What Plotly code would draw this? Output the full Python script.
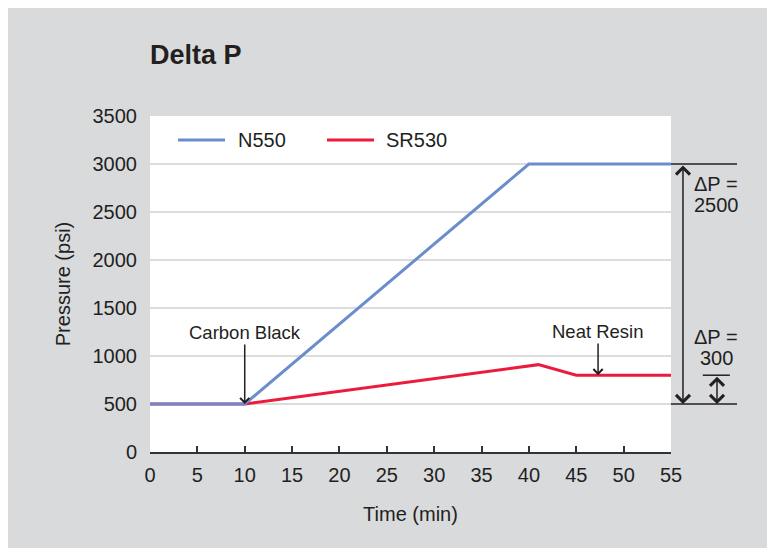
import plotly.graph_objects as go

# ---- data ----
n550_time = [0, 10, 40, 55]
n550_pressure = [500, 500, 3000, 3000]
sr530_time = [0, 10, 41, 45, 55]
sr530_pressure = [500, 500, 910, 800, 800]
x_ticks = [0, 5, 10, 15, 20, 25, 30, 35, 40, 45, 50, 55]
y_ticks = [0, 500, 1000, 1500, 2000, 2500, 3000, 3500]
dp_high = 3000
dp_low = 500
dp_resin = 800

BLUE = '#6b8dcb'
RED = '#ea1b3d'
TXT = '#231f20'
GRAY = '#d9dadc'
FONT = 'Liberation Sans, Arial, Helvetica, sans-serif'

fig = go.Figure()
fig.add_trace(go.Scatter(x=sr530_time, y=sr530_pressure, mode='lines', name='SR530',
                         line=dict(color=RED, width=3), showlegend=False))
fig.add_trace(go.Scatter(x=n550_time, y=n550_pressure, mode='lines', name='N550',
                         line=dict(color=BLUE, width=3), showlegend=False))

shapes = [
    # delta-P reference lines
    dict(type='line', xref='paper', yref='y', x0=1.0, x1=1.1267, y0=dp_high, y1=dp_high,
         line=dict(color=TXT, width=1.5)),
    dict(type='line', xref='paper', yref='y', x0=1.0, x1=1.1267, y0=dp_low, y1=dp_low,
         line=dict(color=TXT, width=1.5)),
    dict(type='line', xref='paper', yref='y', x0=1.061, x1=1.113, y0=dp_resin, y1=dp_resin,
         line=dict(color=TXT, width=1.5)),
    # manual legend samples
    dict(type='line', xref='paper', yref='paper', x0=0.0537, x1=0.144, y0=0.9286, y1=0.9286,
         line=dict(color=BLUE, width=3)),
    dict(type='line', xref='paper', yref='paper', x0=0.3397, x1=0.430, y0=0.9286, y1=0.9286,
         line=dict(color=RED, width=3)),
]

annotations = [
    dict(xref='paper', yref='paper', x=0.165, y=0.9286, text='N550', showarrow=False,
         xanchor='left', yanchor='middle', font=dict(size=20, color=TXT, family=FONT)),
    dict(xref='paper', yref='paper', x=0.449, y=0.9286, text='SR530', showarrow=False,
         xanchor='left', yanchor='middle', font=dict(size=20, color=TXT, family=FONT)),
    dict(x=10, y=dp_low, xref='x', yref='y', ax=10, ay=1246, axref='x', ayref='y',
         text='Carbon Black', showarrow=True, arrowhead=4, arrowsize=1.2, arrowwidth=1.5,
         arrowcolor=TXT, font=dict(size=18.5, color=TXT, family=FONT)),
    dict(x=47.3, y=dp_resin, xref='x', yref='y', ax=47.3, ay=1256, axref='x', ayref='y',
         text='Neat Resin', showarrow=True, arrowhead=4, arrowsize=1.2, arrowwidth=1.5,
         arrowcolor=TXT, font=dict(size=18.5, color=TXT, family=FONT)),
    # big double arrow
    dict(x=1.023, y=dp_low, xref='paper', yref='y', ax=0, ay=dp_high, axref='pixel', ayref='y',
         text='', showarrow=True, arrowside='end+start', arrowhead=4, startarrowhead=4,
         arrowsize=1.8, startarrowsize=1.8, arrowwidth=1.5, arrowcolor=TXT),
    # small double arrow
    dict(x=1.0883, y=dp_low, xref='paper', yref='y', ax=0, ay=dp_resin, axref='pixel', ayref='y',
         text='', showarrow=True, arrowside='end+start', arrowhead=4, startarrowhead=4,
         arrowsize=1.8, startarrowsize=1.8, arrowwidth=1.5, arrowcolor=TXT),
    dict(xref='paper', yref='y', x=1.0873, y=2794, text='ΔP =', showarrow=False,
         xanchor='center', yanchor='middle', font=dict(size=20, color=TXT, family=FONT)),
    dict(xref='paper', yref='y', x=1.0873, y=2576, text=str(dp_high - dp_low), showarrow=False,
         xanchor='center', yanchor='middle', font=dict(size=20, color=TXT, family=FONT)),
    dict(xref='paper', yref='y', x=1.0873, y=1194, text='ΔP =', showarrow=False,
         xanchor='center', yanchor='middle', font=dict(size=20, color=TXT, family=FONT)),
    dict(xref='paper', yref='y', x=1.0873, y=976, text=str(dp_resin - dp_low), showarrow=False,
         xanchor='center', yanchor='middle', font=dict(size=20, color=TXT, family=FONT)),
]

fig.update_layout(
    width=775, height=548,
    margin=dict(l=142, r=112, t=108, b=104),
    paper_bgcolor=GRAY, plot_bgcolor='white',
    font=dict(family=FONT, color=TXT, size=20),
    title=dict(text='<b>Delta P</b>', x=0, xref='paper', xanchor='left',
               y=1 - 47 / 548, yref='container', yanchor='middle',
               font=dict(size=27, color=TXT, family=FONT)),
    shapes=shapes, annotations=annotations,
    showlegend=False,
)
fig.update_xaxes(range=[0, 55], tickvals=x_ticks, ticks='inside', ticklen=6, tickwidth=1.5,
                 tickcolor='#333333', showline=True, linecolor='#333333', linewidth=2,
                 showgrid=False, zeroline=False, ticklabelstandoff=4,
                 tickfont=dict(size=20, color=TXT),
                 title=dict(text='Time (min)', font=dict(size=20, color=TXT), standoff=22))
fig.update_yaxes(range=[0, 3500], tickvals=y_ticks, ticks='', showline=False,
                 showgrid=True, gridcolor='#dcdcdc', gridwidth=1.5, zeroline=False,
                 ticklabelstandoff=12, tickfont=dict(size=20, color=TXT),
                 title=dict(text='Pressure (psi)', font=dict(size=20, color=TXT), standoff=16))

fig.write_html('out.html')
